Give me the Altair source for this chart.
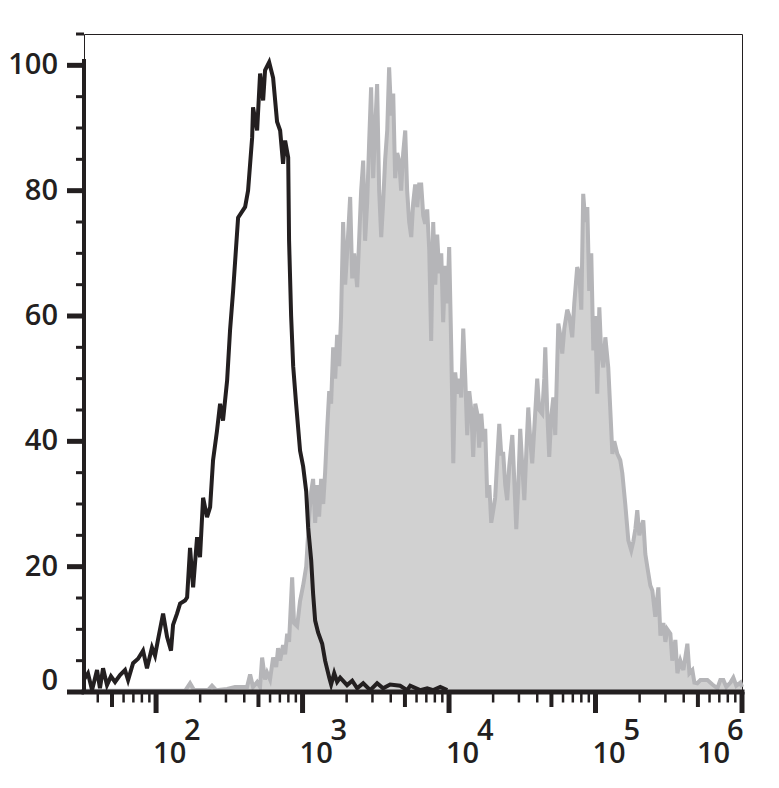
import altair as alt
import pandas as pd

# ---------------- data ----------------
# x values are log10(fluorescence intensity); y values are % of max
GRAY_LOG = [1.508, 1.959, 2.198, 2.232, 2.259, 2.355, 2.382, 2.410, 2.485, 2.539,
            2.621, 2.642, 2.662, 2.690, 2.710, 2.724, 2.744, 2.758, 2.778, 2.799,
            2.820, 2.833, 2.847, 2.867, 2.881, 2.895, 2.908, 2.929, 2.942, 2.963,
            2.983, 3.004, 3.025, 3.045, 3.059, 3.072, 3.086, 3.100, 3.113, 3.127,
            3.141, 3.154, 3.168, 3.182, 3.195, 3.209, 3.223, 3.236, 3.250, 3.263,
            3.277, 3.291, 3.304, 3.325, 3.339, 3.352, 3.373, 3.386, 3.400, 3.414,
            3.427, 3.441, 3.455, 3.468, 3.482, 3.496, 3.509, 3.523, 3.537, 3.550,
            3.564, 3.578, 3.591, 3.605, 3.619, 3.632, 3.646, 3.660, 3.673, 3.687,
            3.701, 3.714, 3.728, 3.742, 3.755, 3.769, 3.783, 3.796, 3.810, 3.824,
            3.837, 3.851, 3.865, 3.878, 3.892, 3.906, 3.919, 3.933, 3.947, 3.960,
            3.974, 3.988, 4.001, 4.015, 4.029, 4.042, 4.056, 4.070, 4.083, 4.097,
            4.111, 4.124, 4.138, 4.152, 4.165, 4.179, 4.193, 4.206, 4.220, 4.234,
            4.247, 4.261, 4.275, 4.288, 4.302, 4.315, 4.329, 4.343, 4.356, 4.370,
            4.384, 4.397, 4.411, 4.432, 4.445, 4.459, 4.473, 4.486, 4.500, 4.514,
            4.527, 4.541, 4.555, 4.568, 4.582, 4.602, 4.616, 4.636, 4.650, 4.657,
            4.670, 4.684, 4.698, 4.712, 4.725, 4.746, 4.759, 4.773, 4.787, 4.807,
            4.821, 4.841, 4.855, 4.875, 4.889, 4.903, 4.916, 4.930, 4.944, 4.957,
            4.971, 4.985, 4.998, 5.012, 5.026, 5.039, 5.053, 5.067, 5.087, 5.101,
            5.115, 5.128, 5.149, 5.169, 5.183, 5.203, 5.224, 5.244, 5.258, 5.272,
            5.285, 5.299, 5.326, 5.340, 5.354, 5.374, 5.388, 5.408, 5.429, 5.443,
            5.463, 5.477, 5.490, 5.511, 5.524, 5.545, 5.559, 5.579, 5.600, 5.627,
            5.641, 5.661, 5.675, 5.695, 5.716, 5.764, 5.798, 5.832, 5.852, 5.873,
            5.893, 5.921, 5.941, 5.961, 5.989, 6.000]
GRAY_PCT = [0.2, 0.2, 0.2, 1.4, 0.3, 0.3, 1.0, 0.3, 0.5, 0.8,
            0.8, 2.8, 0.8, 1.6, 0.8, 5.5, 2.0, 3.1, 2.0, 5.5,
            4.0, 7.0, 5.0, 7.5, 6.0, 9.3, 8.0, 18.3, 11.0, 10.5,
            14.5, 17.0, 20.0, 28.0, 32.0, 34.0, 27.0, 33.0, 28.0, 34.0,
            30.0, 35.0, 42.0, 48.0, 46.0, 55.0, 50.0, 57.0, 52.0, 60.0,
            75.0, 65.0, 70.0, 79.0, 66.0, 70.0, 64.6, 72.0, 80.0, 84.8,
            72.0, 78.0, 88.0, 96.5, 82.0, 90.0, 97.0, 80.0, 72.6, 78.0,
            85.0, 89.6, 99.7, 92.0, 95.5, 82.0, 86.0, 84.8, 80.0, 86.0,
            89.6, 80.0, 75.0, 72.6, 78.0, 81.0, 77.4, 81.0, 81.0, 76.0,
            74.7, 77.0, 70.5, 56.0, 75.0, 65.0, 73.0, 66.8, 70.0, 59.0,
            68.0, 62.0, 71.0, 55.0, 36.5, 51.0, 47.6, 50.0, 47.0, 58.0,
            50.0, 41.0, 48.0, 45.0, 37.5, 46.0, 44.4, 39.0, 44.4, 40.0,
            42.0, 31.0, 33.0, 27.0, 29.0, 31.0, 37.0, 42.8, 38.0, 38.0,
            33.0, 30.6, 36.0, 41.0, 34.0, 26.0, 33.0, 42.0, 36.0, 30.6,
            38.0, 45.4, 40.0, 36.5, 42.0, 50.0, 45.0, 44.4, 50.0, 55.0,
            45.0, 37.5, 44.0, 47.0, 41.0, 58.8, 57.0, 54.0, 58.0, 61.0,
            60.0, 56.6, 62.0, 67.8, 66.8, 61.0, 79.5, 75.0, 77.4, 64.0,
            70.0, 54.5, 60.0, 47.6, 61.4, 54.0, 51.8, 56.6, 51.8, 45.0,
            38.0, 40.0, 38.0, 37.0, 34.9, 30.0, 24.2, 22.6, 24.0, 26.0,
            29.0, 25.0, 27.4, 22.0, 19.9, 17.0, 16.2, 12.0, 16.7, 9.0,
            11.0, 8.0, 10.0, 9.3, 5.0, 8.3, 3.0, 5.0, 3.5, 7.7,
            3.0, 3.5, 1.5, 1.4, 1.9, 1.9, 1.2, 0.6, 1.9, 1.9,
            0.8, 1.5, 2.3, 1.0, 1.5, 0.8]

BLACK_LOG = [1.508, 1.535, 1.563, 1.597, 1.617, 1.638, 1.665, 1.692, 1.720, 1.754,
             1.788, 1.809, 1.843, 1.877, 1.911, 1.938, 1.972, 1.993, 2.013, 2.048,
             2.075, 2.102, 2.116, 2.143, 2.164, 2.198, 2.212, 2.232, 2.253, 2.280,
             2.300, 2.321, 2.348, 2.369, 2.389, 2.416, 2.437, 2.457, 2.485, 2.505,
             2.526, 2.560, 2.608, 2.628, 2.656, 2.662, 2.690, 2.710, 2.731, 2.744,
             2.772, 2.799, 2.826, 2.847, 2.867, 2.881, 2.902, 2.908, 2.922, 2.936,
             2.956, 2.983, 3.004, 3.025, 3.038, 3.059, 3.072, 3.086, 3.106, 3.134,
             3.154, 3.182, 3.195, 3.216, 3.236, 3.257, 3.304, 3.339, 3.373, 3.414,
             3.462, 3.509, 3.550, 3.598, 3.666, 3.714, 3.735, 3.803, 3.851, 3.892,
             3.940, 3.988]
BLACK_PCT = [2.0, 3.0, 0.3, 3.5, 0.6, 3.8, 1.1, 2.5, 1.6, 2.7,
             3.5, 1.9, 4.6, 5.3, 6.6, 3.8, 7.1, 5.8, 8.3, 12.5,
             8.8, 6.6, 10.7, 12.5, 14.1, 14.6, 15.1, 23.0, 16.7, 24.7,
             21.5, 31.0, 27.9, 29.5, 37.0, 41.7, 46.0, 43.3, 49.7, 57.7,
             64.0, 75.7, 77.4, 80.0, 88.5, 93.3, 89.6, 98.7, 94.4, 99.2,
             100.5, 98.0, 91.0, 89.6, 84.3, 88.0, 85.3, 72.0, 60.0, 52.0,
             46.0, 38.5, 36.0, 32.0, 26.3, 21.0, 15.7, 11.4, 9.5, 7.7,
             5.0, 2.3, 1.2, 3.0, 1.6, 2.3, 1.1, 1.8, 0.6, 1.4,
             0.3, 1.4, 0.6, 1.2, 1.0, 0.3, 1.0, 0.3, 0.6, 0.3,
             0.8, 0.3]

X_DOMAIN = [10 ** 1.508, 10 ** 6]
Y_DOMAIN = [0, 105]
DECADES = [100, 1000, 10000, 100000, 1000000]
EXPONENTS = ["2", "3", "4", "5", "6"]
MID_TICKS = [50, 500, 5000, 50000, 500000]
MINOR_TICKS = [m * d for d in [10, 100, 1000, 10000, 100000]
               for m in [2, 3, 4, 6, 7, 8, 9] if m * d >= 33]
Y_LABELLED = [0, 20, 40, 60, 80, 100]
Y_LABEL_TEXT = ["0", "20", "40", "60", "80", "100"]
Y_MINOR = [v for v in range(5, 106, 5) if v % 20 != 0]

# ---------------- style ----------------
INK = "#231f20"
FILL_GRAY = "#d1d1d1"
LINE_GRAY = "#b5b5b8"
FONT = "Open Sans"
FW = 600
FS = 29
W, H = 658, 658

gray_df = pd.DataFrame({"intensity": [10 ** v for v in GRAY_LOG], "pct": GRAY_PCT})
black_df = pd.DataFrame({"intensity": [10 ** v for v in BLACK_LOG], "pct": BLACK_PCT})
label_df = pd.DataFrame({"intensity": DECADES, "base": ["10"] * 5, "exp": EXPONENTS})
major_df = pd.DataFrame({"intensity": DECADES})
mid_df = pd.DataFrame({"intensity": MID_TICKS})
minor_df = pd.DataFrame({"intensity": MINOR_TICKS})
ymaj_df = pd.DataFrame({"pct": Y_LABELLED, "label": Y_LABEL_TEXT})
ymin_df = pd.DataFrame({"pct": Y_MINOR})
yline_df = pd.DataFrame({"a": [0], "b": [101]})
xline_df = pd.DataFrame({"a": [X_DOMAIN[0]], "b": [X_DOMAIN[1]]})

xs = alt.Scale(type="log", domain=X_DOMAIN, nice=False)
ys = alt.Scale(domain=Y_DOMAIN, nice=False, zero=False)

def X(field="intensity"):
    return alt.X(f"{field}:Q", scale=xs, axis=None)

def Y(field="pct"):
    return alt.Y(f"{field}:Q", scale=ys, axis=None)

gray_area = alt.Chart(gray_df).mark_area(color=FILL_GRAY, interpolate="linear").encode(
    x=X(), y=Y())
gray_line = alt.Chart(gray_df).mark_line(color=LINE_GRAY, strokeWidth=4).encode(
    x=X(), y=Y())
black_line = alt.Chart(black_df).mark_line(color=INK, strokeWidth=4).encode(
    x=X(), y=Y())

# x axis: line, decade ticks, half-decade ticks, minor ticks
x_line = alt.Chart(xline_df).mark_rule(color=INK, strokeWidth=5, strokeCap="square").encode(
    x=X("a"), x2="b:Q", y=alt.value(H))
major_ticks = alt.Chart(major_df).mark_rule(color=INK, strokeWidth=5).encode(
    x=X(), y=alt.value(H), y2=alt.value(H + 21))
mid_ticks = alt.Chart(mid_df).mark_rule(color=INK, strokeWidth=4).encode(
    x=X(), y=alt.value(H), y2=alt.value(H + 15))
minor_ticks = alt.Chart(minor_df).mark_rule(color=INK, strokeWidth=2.5).encode(
    x=X(), y=alt.value(H), y2=alt.value(H + 10.5))

# y axis: line, labelled ticks, minor ticks, labels
y_line = alt.Chart(yline_df).mark_rule(color=INK, strokeWidth=4).encode(
    y=Y("a"), y2="b:Q", x=alt.value(0))
y_major = alt.Chart(ymaj_df).mark_rule(color=INK, strokeWidth=5).encode(
    y=Y(), x=alt.value(-17), x2=alt.value(0))
y_minor = alt.Chart(ymin_df).mark_rule(color=INK, strokeWidth=3).encode(
    y=Y(), x=alt.value(-8), x2=alt.value(0))
# the bottom label sits just above its tick (flush with the axis end)
y_labels = alt.Chart(ymaj_df).transform_calculate(
    label_at="datum.pct == 0 ? 1.8 : datum.pct"
).mark_text(
    align="right", baseline="middle", font=FONT, fontSize=FS, fontWeight=FW, color=INK
).encode(y=Y("label_at"), x=alt.value(-26), text="label:N")

def labels(field, dx, ypos, keep_last):
    test = "datum.intensity >= 1000000" if keep_last else "datum.intensity < 1000000"
    return alt.Chart(label_df).transform_filter(test).mark_text(
        align="left", baseline="alphabetic", dx=dx, font=FONT, fontSize=FS,
        fontWeight=FW, color=INK
    ).encode(x=X(), y=alt.value(ypos), text=f"{field}:N")

base_lab = labels("base", -3, H + 71, False)
exp_lab = labels("exp", 28, H + 48, False)
base_last = labels("base", -45, H + 71, True)
exp_last = labels("exp", -15, H + 48, True)

chart = alt.layer(
    gray_area, gray_line, black_line,
    x_line, major_ticks, mid_ticks, minor_ticks,
    y_line, y_major, y_minor, y_labels,
    base_lab, exp_lab, base_last, exp_last,
).properties(
    width=W, height=H,
    padding={"left": 76, "top": 26, "right": 27, "bottom": 80},
    autosize="none",
).configure_view(stroke=INK, strokeWidth=1)

chart.save("out.html", embed_options={"renderer": "svg", "actions": False})
